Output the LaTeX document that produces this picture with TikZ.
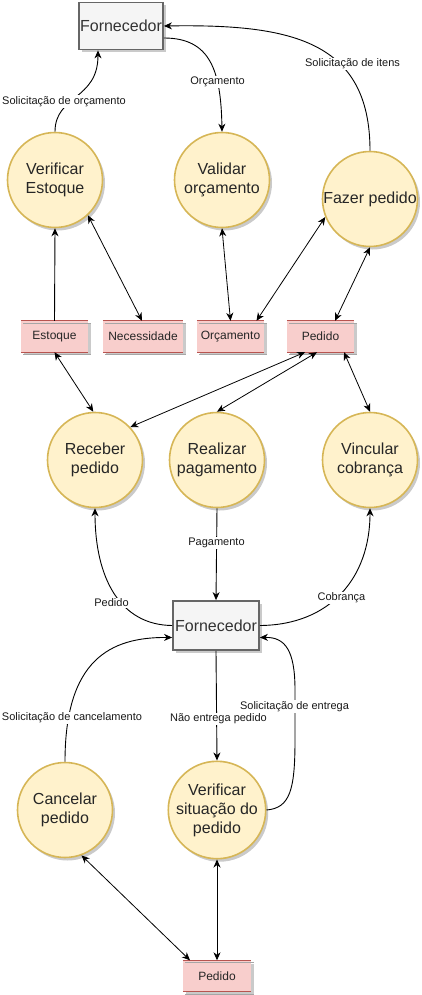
\documentclass[tikz,border=0pt]{standalone}
\usepackage{fontspec}
\setmainfont{Liberation Sans}
\usetikzlibrary{arrows.meta,shadows,calc}
\definecolor{procfill}{HTML}{FFF2CC}
\definecolor{procline}{HTML}{D6B656}
\definecolor{storefill}{HTML}{F8CECC}
\definecolor{storeline}{HTML}{B85450}
\definecolor{extfill}{HTML}{F5F5F5}
\definecolor{extline}{HTML}{666666}
\definecolor{exttext}{HTML}{333333}
\begin{document}
\begin{tikzpicture}[x=1pt,y=-1pt,
  myshadow/.style={drop shadow={shadow xshift=2.5pt,shadow yshift=-3pt,fill=black!35,opacity=0.6}},
  proc/.style={circle,draw=procline,fill=procfill,line width=1.6pt,minimum size=95pt,inner sep=0pt,
    align=center,font=\fontsize{16}{19}\selectfont,text=black!85,myshadow},
  ext/.style={rectangle,draw=extline,fill=extfill,line width=1.8pt,inner sep=0pt,
    font=\fontsize{16}{19}\selectfont,text=exttext,myshadow},
  store/.style={rectangle,fill=storefill,inner sep=0pt,minimum height=31pt,
    font=\fontsize{12}{14}\selectfont,text=black!85,myshadow},
  sline/.style={draw=storeline,line width=1.2pt},
  sshade/.style={draw=black!35,line width=0.9pt},
  flow/.style={line width=0.9pt,-{Stealth[length=8pt,width=7pt,inset=2.5pt]}},
  both/.style={line width=0.8pt,{Stealth[length=8pt,width=7pt,inset=2.5pt]}-{Stealth[length=8pt,width=7pt,inset=2.5pt]}},
  lab/.style={fill=white,inner sep=1pt,font=\fontsize{11}{13}\selectfont,text=black!90}
]
\useasboundingbox (0,0) rectangle (421,995);

\newcommand{\mystore}[5]{%
  \node[store,minimum width=#4] (#1) at (#2,#3) {#5};
  \draw[sshade] ([shift={(2.5pt,-2.5pt)}]#1.north west) -- ([shift={(2.5pt,-2.5pt)}]#1.north east);
  \draw[sline] (#1.north west) -- (#1.north east);
  \draw[sshade] ([shift={(2.5pt,-2.5pt)}]#1.south west) -- ([shift={(2.5pt,-2.5pt)}]#1.south east);
  \draw[sline] (#1.south west) -- (#1.south east);
}

% external entities
\node[ext,minimum width=84pt,minimum height=47pt] (fornA) at (121,26) {Fornecedor};
\node[ext,minimum width=86pt,minimum height=49pt] (fornB) at (216,625.5) {Fornecedor};

% processes
\node[proc] (vest) at (55,180) {Verificar\\Estoque};
\node[proc] (vorc) at (222,180) {Validar\\orçamento};
\node[proc] (fped) at (370,199) {Fazer pedido};
\node[proc] (rec) at (95,460) {Receber\\pedido};
\node[proc] (pag) at (217,460) {Realizar\\pagamento};
\node[proc] (vinc) at (370,460) {Vincular\\cobrança};
\node[proc] (canc) at (65,810) {Cancelar\\pedido};
\node[proc] (vsit) at (217,810) {Verificar\\situação do\\pedido};

% data stores
\mystore{estq}{54.5}{336.5}{67pt}{Estoque}
\mystore{nec}{143}{336.5}{80pt}{Necessidade}
\mystore{orc}{230.5}{336.5}{67pt}{Orçamento}
\mystore{ped}{320.5}{336.5}{67pt}{Pedido}
\mystore{ped2}{217}{976}{68pt}{Pedido}

% top flows
\draw[flow] (vest.north) .. controls (55,95) and (98,100) .. ([xshift=-23pt]fornA.south);
\node[lab] (l1) at (64,101.5) {Solicitação de orçamento};
\draw[flow] ([yshift=-12pt]fornA.east) .. controls (210,38) and (221,70) .. (vorc.north);
\node[lab] (l2) at (217.5,82) {Orçamento};
\draw[flow] (fped.north) .. controls (370,40) and (290,24) .. (fornA.east);
\node[lab] (l3) at (352.5,64) {Solicitação de itens};

% store links
\draw[flow] (estq.north) -- (vest.south);
\draw[both] (vest.-47) -- ([xshift=-1pt]nec.north);
\draw[both] (vorc.south) -- (orc.north);
\draw[both] ([xshift=26pt]orc.north) -- (fped.202);
\draw[both] (fped.south) -- ([xshift=14.5pt]ped.north);
\draw[both] (estq.south) -- (rec.92);
\draw[both] ([xshift=-15.5pt]ped.south) -- (rec.43);
\draw[both] ([xshift=-3.5pt]ped.south) -- (pag.north);
\draw[both] ([xshift=23.5pt]ped.south) -- (vinc.north);

% middle flows
\draw[flow] (pag.south) -- (fornB.north);
\node[lab] (l4) at (216.5,543) {Pagamento};
\draw[flow] (fornB.west) .. controls (120,625) and (95,578) .. (rec.south);
\node[lab] (l5) at (111.5,603) {Pedido};
\draw[flow] (fornB.east) .. controls (330,625) and (370,578) .. (vinc.south);
\node[lab] (l6) at (341.5,598) {Cobrança};

% bottom flows
\draw[flow] (canc.north) .. controls (65,660) and (110,637) .. ([yshift=-12pt]fornB.west);
\node[lab] (l7) at (72,718) {Solicitação de cancelamento};
\draw[flow] (fornB.south) -- (vsit.north);
\node[lab] (l8) at (218.5,719) {Não entrega pedido};
\draw[flow] (vsit.east) .. controls (290,808) and (295,790) .. (295,740) -- (295,690) .. controls (295,650) and (285,637) .. ([yshift=-12pt]fornB.east);
\node[lab] (l9) at (294.5,706.5) {Solicitação de entrega};

\draw[both] (canc.-70) -- ([xshift=-27pt]ped2.north);
\draw[both] (vsit.south) -- (ped2.north);
\end{tikzpicture}
\end{document}
